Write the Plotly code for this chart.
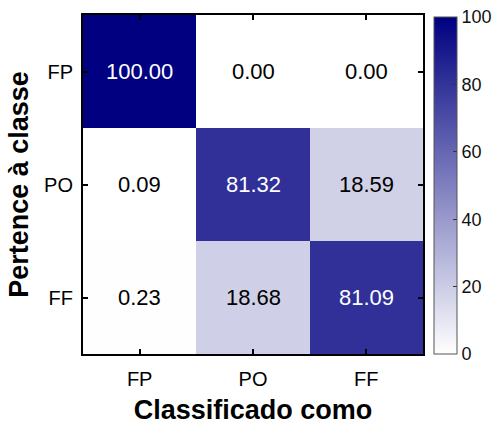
import plotly.graph_objects as go

# Confusion matrix (percent), rows = true class, columns = predicted class
classes = ["FP", "PO", "FF"]
matrix = [
    [100.00, 0.00, 0.00],
    [0.09, 81.32, 18.59],
    [0.23, 18.68, 81.09],
]
cbar_ticks = [0, 20, 40, 60, 80, 100]

font_family = "Liberation Sans, Arial, sans-serif"
idx = list(range(len(classes)))

fig = go.Figure()
fig.add_trace(go.Heatmap(
    z=matrix,
    x=idx,
    y=idx,
    zmin=0,
    zmax=100,
    colorscale=[[0, "rgb(255,255,255)"], [1, "rgb(0,0,128)"]],
    xgap=0, ygap=0,
    colorbar=dict(
        x=1.032, xanchor="left",
        y=0.497, yanchor="middle",
        len=0.994, lenmode="fraction",
        thickness=23,
        outlinewidth=1, outlinecolor="#555",
        ticks="inside", ticklen=4, tickcolor="#333", tickwidth=1,
        tickvals=cbar_ticks,
        tickfont=dict(family=font_family, size=18, color="#111"),
        ypad=0, xpad=0,
    ),
    hoverinfo="skip",
))

# Cell values, white on dark cells
annotations = []
for r, row in enumerate(matrix):
    for c, v in enumerate(row):
        annotations.append(dict(
            x=c, y=r, xref="x", yref="y",
            text=f"{v:.2f}", showarrow=False,
            font=dict(family=font_family, size=22,
                      color="white" if v > 50 else "black"),
        ))

axis_common = dict(
    showline=True, linecolor="black", linewidth=2, mirror="ticks",
    ticks="inside", ticklen=5, tickwidth=1.5, tickcolor="black",
    showgrid=False, zeroline=False,
    tickfont=dict(family=font_family, size=20, color="black"),
    tickvals=idx, ticktext=classes,
)

fig.update_layout(
    width=499, height=425,
    margin=dict(l=83, r=76, t=15, b=71, autoexpand=False),
    paper_bgcolor="white", plot_bgcolor="white",
    annotations=annotations,
    xaxis=dict(**axis_common, range=[-0.5, 2.5], ticklabelstandoff=6,
               title=dict(text="<b>Classificado como</b>", standoff=12,
                          font=dict(family=font_family, size=27, color="black"))),
    yaxis=dict(**axis_common, range=[2.5, -0.5], ticklabelstandoff=4,
               title=dict(text="<b>Pertence à classe</b>", standoff=8,
                          font=dict(family=font_family, size=27, color="black"))),
)

fig.write_html("out.html")
